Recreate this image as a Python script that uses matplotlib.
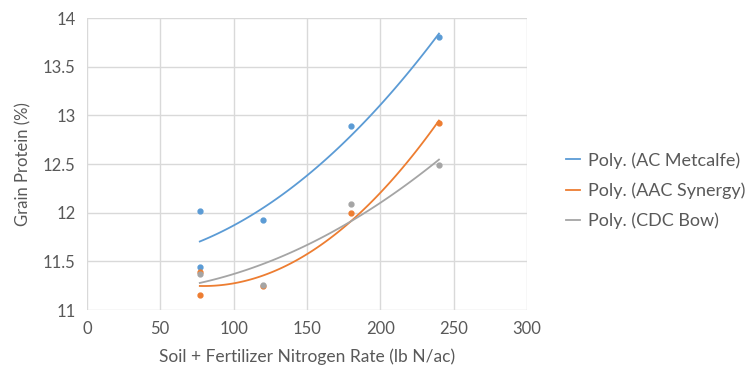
import numpy as np
import matplotlib
matplotlib.use("Agg")
import matplotlib.pyplot as plt

plt.rcParams['font.family'] = ['Lato', 'DejaVu Sans']

# data
metcalfe_x = [77, 77, 120, 180, 240]
metcalfe_y = [12.02, 11.44, 11.93, 12.89, 13.81]
synergy_x = [77, 77, 120, 180, 240]
synergy_y = [11.39, 11.15, 11.25, 12.00, 12.92]
bow_x = [77, 120, 180, 240]
bow_y = [11.37, 11.26, 12.09, 12.49]

series = [
    ("Poly. (AC Metcalfe)", metcalfe_x, metcalfe_y, "#5B9BD5"),
    ("Poly. (AAC Synergy)", synergy_x, synergy_y, "#ED7D31"),
    ("Poly. (CDC Bow)", bow_x, bow_y, "#A5A5A5"),
]

fig = plt.figure(figsize=(7.55, 3.7), dpi=100)
ax = fig.add_axes([0.115, 0.162, 0.583, 0.789])

for label, xs, ys, col in series:
    ax.plot(xs, ys, 'o', color=col, markersize=3.5, zorder=3)
    c = np.polyfit(xs, ys, 2)
    xx = np.linspace(min(xs), max(xs), 100)
    ax.plot(xx, np.polyval(c, xx), '-', color=col, linewidth=1.3, label=label, zorder=2)

ax.set_xlim(0, 300)
ax.set_ylim(11, 14)
ax.set_xticks(range(0, 301, 50))
ax.set_yticks(np.arange(11, 14.01, 0.5))
ax.set_yticklabels(['11', '11.5', '12', '12.5', '13', '13.5', '14'])
ax.grid(True, color='#D9D9D9', linewidth=1)
ax.set_axisbelow(True)
for s in ax.spines.values():
    s.set_visible(False)
ax.tick_params(length=0, labelsize=12, colors='#595959', pad=8)
ax.set_xlabel("Soil + Fertilizer Nitrogen Rate (lb N/ac)", fontsize=12.5, color='#595959', labelpad=8)
ax.set_ylabel("Grain Protein (%)", fontsize=12, color='#595959', labelpad=8)

fig.legend(loc='center left', bbox_to_anchor=(0.728, 0.485), frameon=False,
           fontsize=13, handlelength=0.8, handletextpad=0.4, labelspacing=0.75,
           labelcolor='#595959')

fig.savefig("out.png", dpi=100)
